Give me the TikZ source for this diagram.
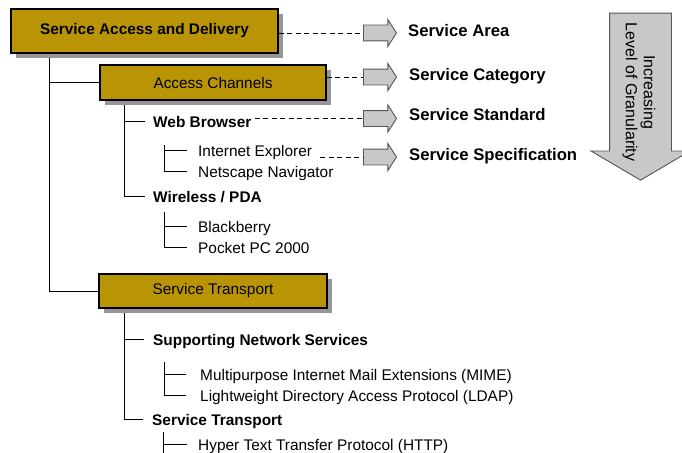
\documentclass[tikz,border=0pt]{standalone}
\usepackage{fontspec}
\setmainfont{Liberation Sans}
\usetikzlibrary{shapes.arrows,shadows,backgrounds}
\definecolor{gold}{RGB}{185,149,5}
\definecolor{shadowgray}{RGB}{150,150,150}
\definecolor{arrowfill}{RGB}{200,200,200}
\definecolor{arrowline}{RGB}{85,85,85}
\newcommand{\fsn}{\fontsize{15.4}{18}\selectfont}
\begin{document}
\begin{tikzpicture}[x=1pt,y=-1pt,
  box/.style={draw=black, line width=1.2pt, fill=gold, inner sep=0pt, font=\fsn,
    drop shadow={shadow xshift=5pt, shadow yshift=-5pt, fill=shadowgray, opacity=1}},
  item/.style={anchor=base west, inner sep=0pt, text height=11pt, text depth=0pt, font=\fsn},
  bitem/.style={item, font=\fsn\bfseries},
  lbl/.style={anchor=base west, inner sep=0pt, font=\fontsize{16.7}{20}\selectfont\bfseries},
  tree/.style={draw=black, line width=0.9pt},
  dline/.style={draw=black, line width=0.9pt, dash pattern=on 5pt off 3.5pt},
  sarrow/.style={single arrow, draw=arrowline, fill=arrowfill, line width=0.9pt,
    minimum height=33pt, single arrow head extend=5.5pt,
    single arrow tip angle=115, inner xsep=0pt, inner ysep=7.5pt, anchor=tail},
]
\useasboundingbox (0,0) rectangle (682,452);
\begin{scope}[on background layer]
\fill[white] (0,0) rectangle (682,452);
\end{scope}
\clip (0,0) rectangle (682,452);

% text items
\node[bitem] (wb) at (153,127) {Web Browser};
\node[item]  (ie) at (198,156) {Internet Explorer};
\node[item]  (ns) at (198,177) {Netscape Navigator};
\node[bitem] (wl) at (153,202) {Wireless / PDA};
\node[item]  (bb) at (198,232) {Blackberry};
\node[item]  (pp) at (198,253) {Pocket PC 2000};
\node[bitem] (sn) at (153,345) {Supporting Network Services};
\node[item]  (mi) at (200,380) {Multipurpose Internet Mail Extensions (MIME)};
\node[item]  (ld) at (200,401) {Lightweight Directory Access Protocol (LDAP)};
\node[bitem] (st) at (152,425) {Service Transport};
\node[item]  (ht) at (198,450) {Hyper Text Transfer Protocol (HTTP)};

% boxes
\node[box, font=\fsn\bfseries, minimum width=267pt, minimum height=44pt] (b1) at (144.5,31) {Service Access and Delivery};
\node[box, minimum width=226pt, minimum height=35pt] (b2) at (213,82.5) {Access Channels};
\node[box, minimum width=228pt, minimum height=34pt] (b3) at (213,291) {Service Transport};

% tree connectors
\begin{scope}[on background layer]
\draw[tree] ([xshift=39pt]b1.south west) |- (b2.west);
\draw[tree] ([xshift=39pt]b1.south west) |- (b3.west);
\draw[tree] ([xshift=25pt]b2.south west) |- ([xshift=-8pt]wb.west);
\draw[tree] ([xshift=25pt]b2.south west) |- ([xshift=-8pt]wl.west);
\draw[tree] ([xshift=11pt,yshift=-18pt]wb.base west) |- ([xshift=-11pt]ie.west);
\draw[tree] ([xshift=11pt,yshift=-18pt]wb.base west) |- ([xshift=-11pt]ns.west);
\draw[tree] ([xshift=11pt,yshift=-10pt]wl.base west) |- ([xshift=-11pt]bb.west);
\draw[tree] ([xshift=11pt,yshift=-10pt]wl.base west) |- ([xshift=-11pt]pp.west);
\draw[tree] ([xshift=26pt]b3.south west) |- ([xshift=-9pt]sn.west);
\draw[tree] ([xshift=26pt]b3.south west) |- ([xshift=-9pt]st.west);
\draw[tree] ([xshift=11pt,yshift=-17pt]sn.base west) |- ([xshift=-14pt]mi.west);
\draw[tree] ([xshift=11pt,yshift=-17pt]sn.base west) |- ([xshift=-14pt]ld.west);
\coordinate (htend) at (163,470);
\draw[tree] ([xshift=11pt,yshift=-7pt]st.base west) |- ([xshift=-11pt]ht.west);
\draw[tree] ([xshift=11pt,yshift=-7pt]st.base west) -- (htend);
\end{scope}

% small arrows
\node[sarrow] (a1) at (363,33) {};
\node[sarrow] (a2) at (363,77) {};
\node[sarrow] (a3) at (363,118.5) {};
\node[sarrow] (a4) at (363,157) {};

% dashed connectors
\draw[dline] (b1.east |- a1.tail) -- (a1.tail);
\draw[dline] (b2.east |- a2.tail) -- (a2.tail);
\draw[dline] ([xshift=3pt]wb.east |- a3.tail) -- (a3.tail);
\draw[dline] ([xshift=8pt]ie.east |- a4.tail) -- (a4.tail);

% labels
\node[lbl] (la) at (408,37) {Service Area};
\node[lbl] (lc) at (409,81) {Service Category};
\node[lbl] (ls) at (409,120) {Service Standard};
\node[lbl] (lp) at (409,160) {Service Specification};

% big arrow
\node[single arrow, rotate=-90, anchor=tail, draw=arrowline, fill=arrowfill, line width=0.9pt,
  minimum height=167pt, single arrow head extend=18.5pt,
  single arrow tip angle=119, inner xsep=0pt, inner ysep=30.5pt] (ga) at (640.5,12.7) {};
\node[rotate=-90, align=center, inner sep=0pt, font=\fontsize{16}{18}\selectfont] (gt) at (639,92) {Increasing\\Level of Granularity};
\end{tikzpicture}
\end{document}
